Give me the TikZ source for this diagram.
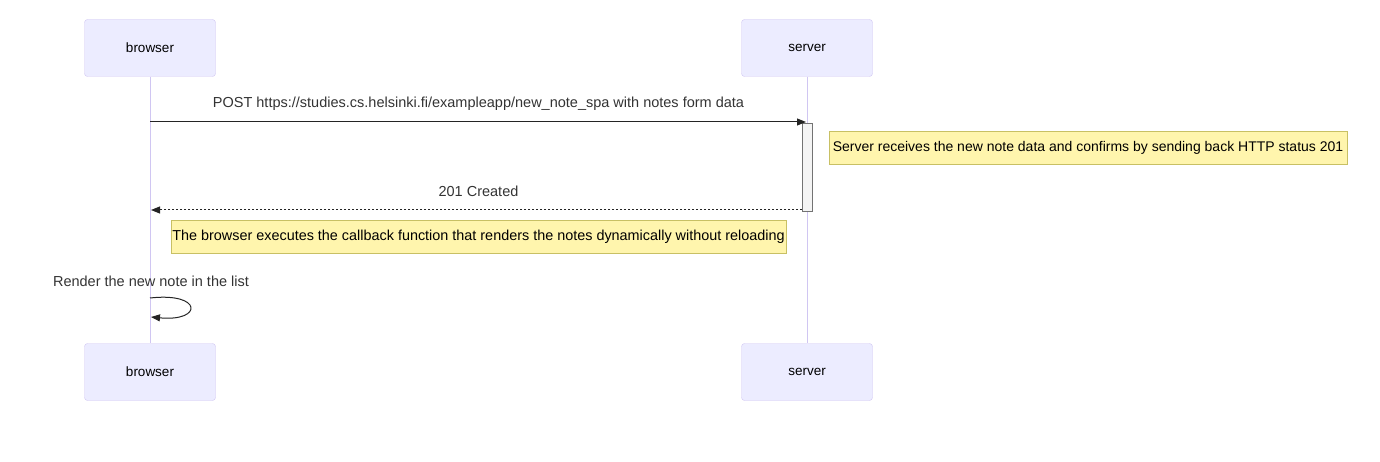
\documentclass[tikz,border=0pt]{standalone}
\usepackage{fontspec}
\setmainfont{Liberation Sans}
\usetikzlibrary{arrows.meta}
\definecolor{actorfill}{HTML}{ECECFF}
\definecolor{actorline}{HTML}{D0C6F2}
\definecolor{notefill}{HTML}{FFF5AD}
\definecolor{noteline}{HTML}{C8C064}
\definecolor{txt}{HTML}{333333}
\definecolor{actfill}{HTML}{F4F4F4}
\tikzset{
    actor/.style={draw=actorline, fill=actorfill, rounded corners=3pt,
        minimum width=131pt, minimum height=57pt, text=black},
    note/.style={draw=noteline, fill=notefill, minimum height=33pt,
        inner sep=0pt, text=black, font=\fontsize{14}{16}\selectfont},
    msg/.style={text=txt, font=\fontsize{14.5}{17}\selectfont},
    msgline/.style={draw=txt!70!black, line width=1pt},
    tip/.style={-{Triangle[length=9pt,width=7pt]}},
}
\begin{document}
\begin{tikzpicture}[x=1pt, y=-1pt, font=\fontsize{13.5}{16}\selectfont]
    \useasboundingbox (0,0) rectangle (1380,462);
    % actors
    \node[actor] (browserTop) at (150,48) {browser};
    \node[actor] (serverTop) at (807,48) {server};
    \node[actor] (browserBot) at (150,372) {browser};
    \node[actor] (serverBot) at (807,372) {server};
    % lifelines
    \draw[actorline, line width=1pt] (browserTop) -- (browserBot);
    \draw[actorline, line width=1pt] (serverTop) -- (serverBot);
    % activation
    \node[draw=black!55, fill=actfill, minimum width=10pt, minimum height=88pt,
        inner sep=0pt] (act) at (807,167) {};
    % messages
    \coordinate (b1) at (150,122);
    \coordinate (s1) at (806,122);
    \draw[msgline, tip] (b1) -- (s1);
    \node[msg] (m1) at (478.5,104) {POST https://studies.cs.helsinki.fi/exampleapp/new\_note\_spa with notes form data};
    \node[note, minimum width=518pt] (n1) at (1088,148) {Server receives the new note data and confirms by sending back HTTP status 201};
    \coordinate (s2) at (802,210);
    \coordinate (b2) at (151,210);
    \draw[msgline, tip, dash pattern=on 2pt off 2pt] (s2) -- (b2);
    \node[msg] (m2) at (478.5,191) {201 Created};
    \node[note, minimum width=615pt, font=\fontsize{14.4}{16}\selectfont] (n2) at (478.5,237) {The browser executes the callback function that renders the notes dynamically without reloading};
    % self message
    \node[msg] (m3) at (151,281) {Render the new note in the list};
    \coordinate (l0) at (150,298);
    \coordinate (l1) at (151,317);
    \draw[msgline, tip] (l0) .. controls (203,292) and (203,322) .. (l1);
\end{tikzpicture}
\end{document}
